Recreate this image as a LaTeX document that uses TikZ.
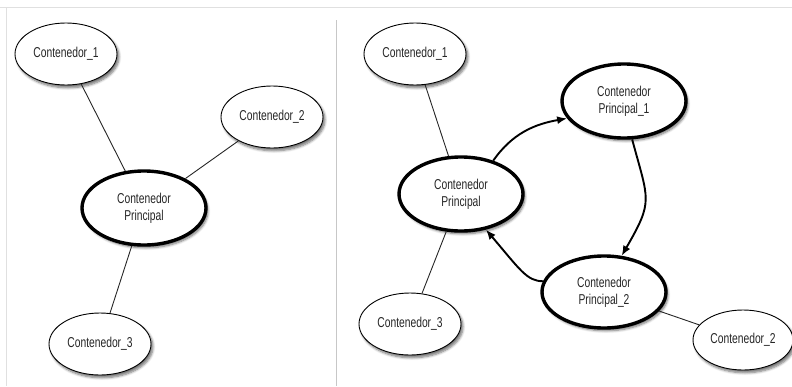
\documentclass[tikz,border=0pt]{standalone}
\usepackage{fontspec}
\setmainfont{Liberation Sans}[FakeStretch=0.72]
\usetikzlibrary{shapes.geometric,arrows.meta,shadows.blur}
\begin{document}
\begin{tikzpicture}[x=1pt,y=1pt,
  font=\fontsize{14.3}{17}\selectfont,
  soft/.style={blur shadow={shadow xshift=2pt,shadow yshift=-2.8pt,
      shadow blur radius=2.4pt,shadow blur steps=6,shadow opacity=55}},
  plain/.style={ellipse,draw=black,line width=0.9pt,fill=white,soft,
      minimum width=102pt,minimum height=62pt,inner sep=0pt,
      text=black!85,align=center},
  main/.style={plain,line width=3.4pt,minimum width=124pt,minimum height=74pt},
  link/.style={draw=black!85,line width=0.9pt},
  flow/.style={draw=black,line width=1.9pt,
      -{Latex[length=10pt,width=8pt]}},
  frame/.style={draw=black!12,line width=0.8pt}]
\useasboundingbox (0,0) rectangle (792,-386);

% panel frames
\draw[frame] (0,-7) -- (792,-7);
\draw[frame] (6,-7) -- (6,-386);
\draw[draw=black!22,line width=0.8pt] (336,-20) -- (336,-386);

% first arrangement: one main container with three satellites
\node[main]  (lp) at (144,-208) {Contenedor\\Principal};
\node[plain] (l1) at (66,-54)   {Contenedor\_1};
\node[plain] (l2) at (272,-117) {Contenedor\_2};
\node[plain] (l3) at (100,-344) {Contenedor\_3};
\draw[link] (l1) -- (lp);
\draw[link] (l2) -- (lp);
\draw[link] (lp) -- (l3);

% second arrangement: three main containers in a cycle
\node[main]  (rp)  at (461,-194) {Contenedor\\Principal};
\node[main,minimum height=74pt] (rp1) at (624,-101) {Contenedor\\Principal\_1};
\node[main,minimum height=72pt] (rp2) at (604,-292) {Contenedor\\Principal\_2};
\node[plain] (r1) at (415,-54)  {Contenedor\_1};
\node[plain] (r3) at (410,-324) {Contenedor\_3};
\node[plain,minimum width=100pt,minimum height=60pt] (r2) at (743,-340) {Contenedor\_2};

\draw[link] (r1) -- (rp);
\draw[link] (rp) -- (r3);
\draw[link] (rp2) -- (r2);

\draw[flow] (rp.46) to[out=55,in=190] (rp1.197);
\draw[flow] (rp1.-78) to[out=-75,in=60,looseness=1.4] (rp2.64);
\draw[flow] (rp2.170) .. controls +(-16,0) and +(34,-40) .. (rp.-55);
\end{tikzpicture}
\end{document}
